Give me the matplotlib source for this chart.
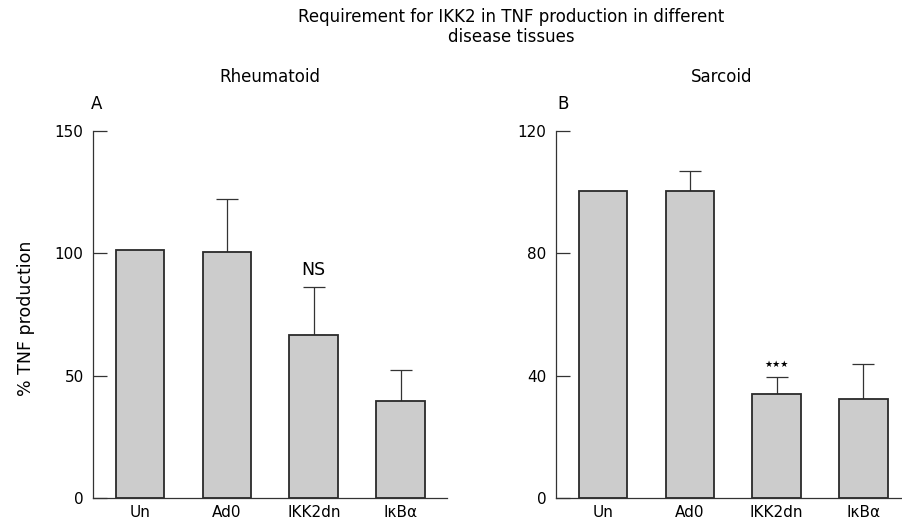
import matplotlib
matplotlib.use("Agg")
import matplotlib.pyplot as plt

plt.rcParams['font.family'] = ['DejaVu Sans']

categories = ["Un", "Ad0", "IKK2dn", "I\u03baB\u03b1"]
rheum_values = [101.3, 100.5, 66.7, 39.7]
rheum_err_upper = [0.0, 21.7, 19.4, 12.8]
sarc_values = [100.3, 100.3, 34.1, 32.5]
sarc_err_upper = [0.0, 6.6, 5.6, 11.4]
rheum_ticks = [0, 50, 100, 150]
sarc_ticks = [0, 40, 80, 120]

W, H = 902, 520
fig = plt.figure(figsize=(W / 100, H / 100), dpi=100)

ax1 = fig.add_axes([92.7 / W, 1 - 498.3 / H, (446.7 - 92.7) / W, (498.3 - 130.7) / H])
ax2 = fig.add_axes([555.7 / W, 1 - 498.3 / H, (901.5 - 555.7) / W, (498.3 - 130.7) / H])

bar_color = "#cccccc"
edge_color = "#2a2a2a"


def draw(ax, vals, errs, ticks, xlim):
    x = list(range(len(vals)))
    ax.bar(x, vals, width=0.56, color=bar_color, edgecolor=edge_color, linewidth=1.3, zorder=2)
    ex = [i for i, e in enumerate(errs) if e > 0]
    ax.errorbar(ex, [vals[i] for i in ex], yerr=[[0] * len(ex), [errs[i] for i in ex]],
                fmt="none", ecolor="#333333", elinewidth=0.9, capsize=8, capthick=0.9, zorder=1)
    ax.set_xlim(*xlim)
    ax.set_ylim(ticks[0], ticks[-1])
    ax.set_yticks(ticks)
    ax.set_xticks(x)
    ax.set_xticklabels(categories, fontsize=11)
    ax.tick_params(axis="x", length=0, pad=4.5)
    ax.tick_params(axis="y", direction="in", length=10, width=0.9, labelsize=11, pad=6.5, color="#333333")
    for s in ["top", "right"]:
        ax.spines[s].set_visible(False)
    for s in ["left", "bottom"]:
        ax.spines[s].set_linewidth(0.9)
        ax.spines[s].set_color("#333333")
    ax.patch.set_alpha(0)


draw(ax1, rheum_values, rheum_err_upper, rheum_ticks, (-0.545, 3.53))
draw(ax2, sarc_values, sarc_err_upper, sarc_ticks, (-0.548, 3.44))

ax1.set_ylabel("% TNF production", fontsize=12.5)
ax1.yaxis.set_label_coords(-0.163, 0.49)

# annotations
ax1.text(2, rheum_values[2] + rheum_err_upper[2] + 3.5, "NS", ha="center", va="bottom", fontsize=12.5)
ax2.text(2, sarc_values[2] + sarc_err_upper[2] + 2.6, "\u2605\u2605\u2605", ha="center", va="bottom",
         fontsize=6.5)

fig.text(511 / W, 1 - 27 / H, "Requirement for IKK2 in TNF production in different\ndisease tissues",
         ha="center", va="center", fontsize=12, linespacing=1.15)
fig.text(270 / W, 1 - 77 / H, "Rheumatoid", ha="center", va="center", fontsize=12)
fig.text(722 / W, 1 - 77 / H, "Sarcoid", ha="center", va="center", fontsize=12)
fig.text(97 / W, 1 - 104 / H, "A", ha="center", va="center", fontsize=12)
fig.text(563 / W, 1 - 104 / H, "B", ha="center", va="center", fontsize=12)

fig.savefig("out.png", dpi=100, facecolor="white")
